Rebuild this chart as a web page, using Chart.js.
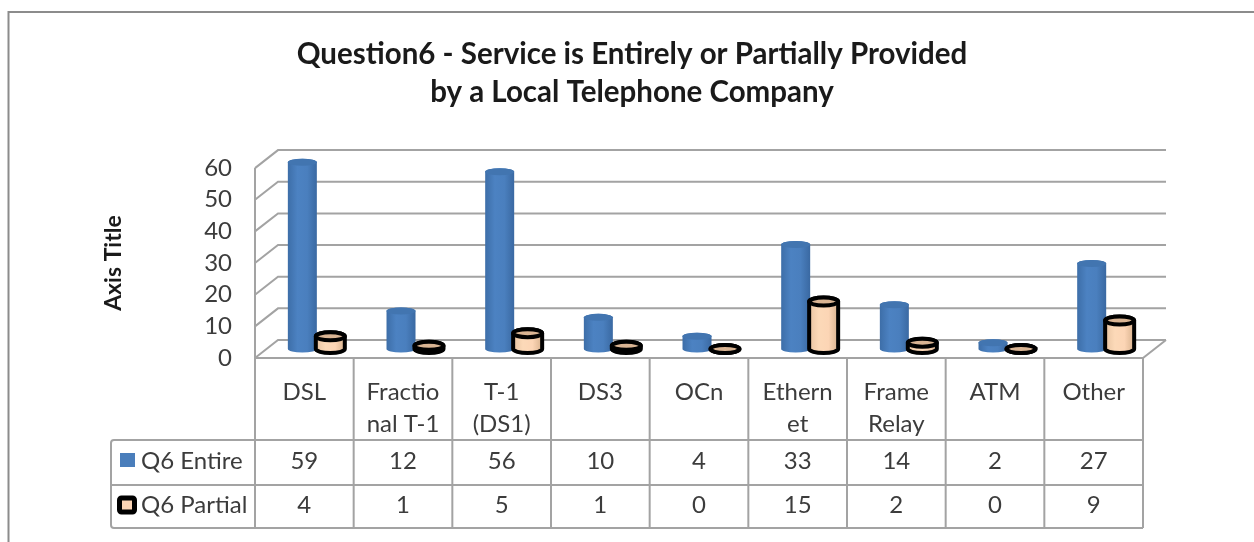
<!DOCTYPE html>
<html lang="en">
<head>
  <meta charset="UTF-8">
  <title>Question6</title>
  <script src="https://cdn.jsdelivr.net/npm/chart.js"></script>
  <style>
    html, body { margin: 0; padding: 0; background: #fff; }
    canvas { display: block; }
  </style>
</head>
<body>
  <canvas id="chart" width="1254" height="542"></canvas>

  <script>
    const categories = ["DSL", ["Fractio", "nal T-1"], ["T-1", "(DS1)"], "DS3", "OCn", ["Ethern", "et"], ["Frame", "Relay"], "ATM", "Other"];
    const entire = [59, 12, 56, 10, 4, 33, 14, 2, 27];
    const partial = [4, 1, 5, 1, 0, 15, 2, 0, 9];
    const seriesNames = ["Q6 Entire", "Q6 Partial"];
    const titleLines = ["Question6 - Service is Entirely or Partially Provided", "by a Local Telephone Company"];

    const textColor = "#3c3c3c";
    const lineColor = "#a3a3a3";
    const depthX = 23, depthY = 18;   // how far the back wall sits behind the axis
    const barShift = 12, barLift = 9; // bars stand in the middle of the floor
    const tableFont = "24px Lato";

    // side-lit fill for a cylinder
    function sideFill(ctx, left, right, stops) {
      const g = ctx.createLinearGradient(left, 0, right, 0);
      stops.forEach((c, i) => g.addColorStop(i / (stops.length - 1), c));
      return g;
    }

    function cylinder(ctx, el, outlined) {
      const cx = el.x + barShift;
      const rx = 14.5;
      const ry = outlined ? 4 : 3.5;
      const top = el.y - barLift;
      const bottom = el.base - barLift;
      const left = cx - rx, right = cx + rx;

      ctx.save();
      ctx.lineWidth = 4;
      ctx.strokeStyle = "#000";
      ctx.beginPath();
      ctx.moveTo(left, top);
      ctx.lineTo(left, bottom);
      ctx.ellipse(cx, bottom, rx, ry, 0, Math.PI, 0, true);
      ctx.lineTo(right, top);
      ctx.ellipse(cx, top, rx, ry, 0, 0, Math.PI, true);
      ctx.closePath();
      ctx.fillStyle = outlined
        ? sideFill(ctx, left, right, ["#e8c4a2", "#fcd9b8", "#fcd5b5", "#d8b28e"])
        : sideFill(ctx, left, right, ["#3d6ea8", "#4c82c2", "#4a7fbe", "#3a69a2"]);
      ctx.fill();
      if (outlined) ctx.stroke();

      ctx.beginPath();
      ctx.ellipse(cx, top, rx, ry, 0, 0, Math.PI * 2);
      ctx.fillStyle = outlined ? "#d9b493" : "#4275b0";
      ctx.fill();
      if (outlined) ctx.stroke();
      ctx.restore();
    }

    const sketch = {
      id: "sketch",
      beforeDraw(chart) {
        const { ctx, scales: { x, y } } = chart;
        const area = chart.chartArea;
        ctx.save();

        // outer frame
        ctx.strokeStyle = "#8c8c8c";
        ctx.lineWidth = 2;
        ctx.beginPath();
        ctx.moveTo(8.5, 542);
        ctx.lineTo(8.5, 12);
        ctx.lineTo(1254, 12);
        ctx.stroke();

        // walls and floor
        ctx.strokeStyle = lineColor;
        ctx.lineWidth = 2;
        ctx.beginPath();
        y.ticks.forEach(t => {
          const py = y.getPixelForValue(t.value);
          ctx.moveTo(area.left, py);
          ctx.lineTo(area.left + depthX, py - depthY);
          ctx.lineTo(area.right + depthX, py - depthY);
        });
        const zero = y.getPixelForValue(0);
        ctx.moveTo(area.left, area.top);
        ctx.lineTo(area.left, zero);
        ctx.lineTo(area.right, zero);
        ctx.lineTo(area.right + depthX, zero - depthY);
        ctx.stroke();
        ctx.restore();
      },
      beforeDatasetDraw() {
        return false; // bars are drawn as cylinders below
      },
      afterDatasetsDraw(chart) {
        const { ctx, scales: { x } } = chart;
        const area = chart.chartArea;
        chart.getDatasetMeta(0).data.forEach(el => cylinder(ctx, el, false));
        chart.getDatasetMeta(1).data.forEach(el => cylinder(ctx, el, true));

        // data table
        const step = (area.right - area.left) / categories.length;
        const rowY = [440, 485, 528];
        const tableLeft = 111;
        ctx.save();
        ctx.strokeStyle = lineColor;
        ctx.lineWidth = 2;
        ctx.beginPath();
        categories.forEach((c, i) => {
          const px = x.getPixelForValue(i) + step / 2;
          ctx.moveTo(px, area.bottom);
          ctx.lineTo(px, rowY[2]);
        });
        ctx.moveTo(area.left, area.bottom);
        ctx.lineTo(area.left, rowY[2]);
        ctx.moveTo(tableLeft, rowY[1]);
        ctx.lineTo(area.right, rowY[1]);
        ctx.moveTo(area.left, rowY[0]);
        ctx.lineTo(area.right, rowY[0]);
        ctx.moveTo(area.left, rowY[2]);
        ctx.lineTo(area.right, rowY[2]);
        ctx.stroke();
        // rounded outside corners on the row header
        ctx.beginPath();
        ctx.roundRect(tableLeft, rowY[0], area.left - tableLeft, rowY[2] - rowY[0], [3, 0, 0, 3]);
        ctx.stroke();

        ctx.fillStyle = textColor;
        ctx.font = tableFont;
        ctx.textAlign = "center";
        ctx.textBaseline = "middle";
        chart.data.datasets.forEach((ds, r) => {
          const cy = (rowY[r] + rowY[r + 1]) / 2 - 1;
          ds.data.forEach((v, i) => ctx.fillText(v, x.getPixelForValue(i), cy));
          ctx.textAlign = "left";
          ctx.fillText(seriesNames[r], 141, cy);
          ctx.textAlign = "center";
        });

        // legend keys in the table
        ctx.fillStyle = "#4a7ebb";
        ctx.fillRect(120, 453, 15, 14);
        ctx.fillStyle = "#fcd5b5";
        ctx.strokeStyle = "#000";
        ctx.lineWidth = 5;
        ctx.beginPath();
        ctx.roundRect(119.5, 498, 15, 14, 2);
        ctx.fill();
        ctx.stroke();
        ctx.restore();
      }
    };

    new Chart(document.getElementById("chart"), {
      type: "bar",
      data: {
        labels: categories,
        datasets: [
          { label: seriesNames[0], data: entire, backgroundColor: "#4a7ebb" },
          { label: seriesNames[1], data: partial, backgroundColor: "#fcd5b5", borderColor: "#000", borderWidth: 4 }
        ]
      },
      options: {
        responsive: false,
        animation: false,
        categoryPercentage: 0.567,
        barPercentage: 1,
        layout: { padding: { left: 10, right: 0, top: 0, bottom: 0 } },
        plugins: {
          legend: { display: false },
          tooltip: { enabled: false },
          title: {
            display: true,
            text: titleLines,
            color: "#1a1a1a",
            font: { family: "Lato", size: 29.5, weight: "bold", lineHeight: 1.29 },
            padding: { top: 35, bottom: 57 }
          }
        },
        scales: {
          x: {
            grid: { display: false, drawTicks: false },
            border: { display: false },
            ticks: {
              autoSkip: false,
              maxRotation: 0,
              padding: 18,
              color: textColor,
              font: { family: "Lato", size: 24, lineHeight: 1.33 }
            },
            afterFit(scale) { scale.height = 184; }
          },
          y: {
            min: 0,
            max: 60,
            grid: { display: false, drawTicks: false },
            border: { display: false },
            ticks: {
              autoSkip: false,
              stepSize: 10,
              padding: 23,
              color: textColor,
              font: { family: "Lato", size: 24 }
            },
            title: {
              display: true,
              text: "Axis Title",
              color: "#1a1a1a",
              font: { family: "Lato", size: 23, weight: "bold" },
              padding: { top: 90, bottom: 0 }
            },
            afterFit(scale) { scale.width = 245; }
          },
          // empty axis keeps the plot clear of the right margin
          side: {
            position: "right",
            display: true,
            min: 0,
            max: 60,
            grid: { display: false, drawTicks: false },
            border: { display: false },
            ticks: { display: false },
            afterFit(scale) { scale.width = 111; }
          }
        }
      },
      plugins: [sketch]
    });
  </script>
</body>
</html>
